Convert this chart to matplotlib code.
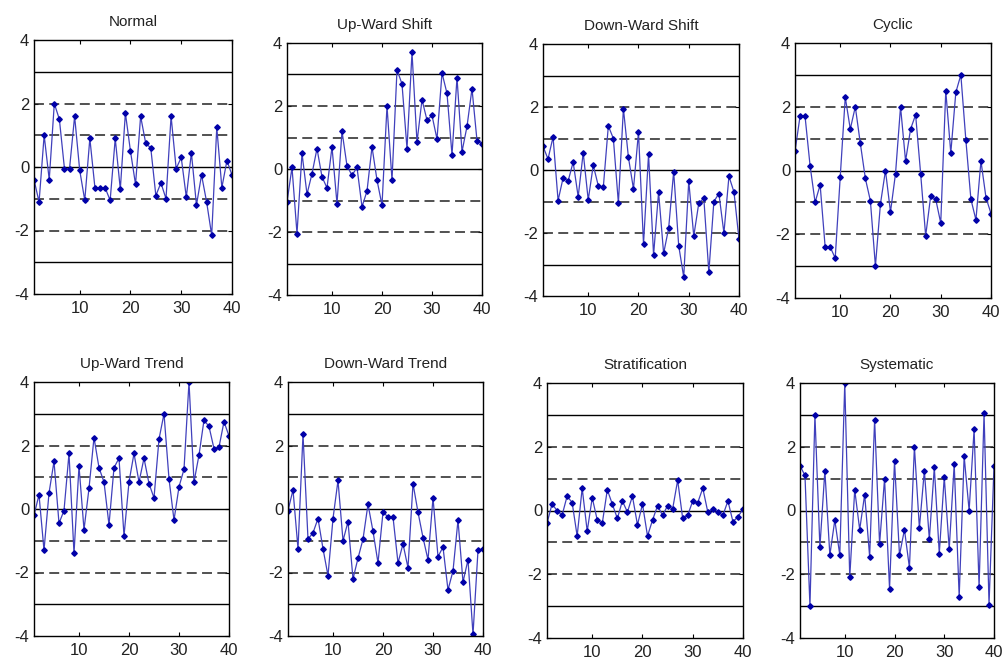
import matplotlib
matplotlib.use("Agg")
import matplotlib.pyplot as plt
import numpy as np

plt.rcParams['font.family'] = ['Liberation Sans', 'DejaVu Sans']
plt.rcParams['axes.unicode_minus'] = False

# sample index 1..40
x = np.arange(1, 41)

titles = ["Normal", "Up-Ward Shift", "Down-Ward Shift", "Cyclic",
          "Up-Ward Trend", "Down-Ward Trend", "Stratification", "Systematic"]

normal = [-0.4, -1.1, 1.0, -0.4, 2.0, 1.5, -0.05, -0.05, 1.6, -0.1,
          -1.05, 0.9, -0.65, -0.65, -0.65, -1.05, 0.9, -0.7, 1.7, 0.5,
          -0.55, 1.6, 0.75, 0.6, -0.9, -0.5, -1.0, 1.6, -0.05, 0.3,
          -0.95, 0.45, -1.2, -0.25, -1.1, -2.15, 1.25, -0.65, 0.2, -0.25]
up_shift = [-1.05, 0.05, -2.05, 0.5, -0.8, -0.15, 0.65, -0.25, -0.6, 0.7,
            -1.1, 1.2, 0.1, -0.2, 0.05, -1.2, -0.7, 0.7, -0.35, -1.15,
            2.0, -0.35, 3.15, 2.7, 0.65, 3.7, 0.85, 2.2, 1.55, 1.7,
            0.95, 3.05, 2.4, 0.45, 2.9, 0.55, 1.35, 2.55, 0.9, 0.8]
down_shift = [0.75, 0.35, 1.05, -0.97, -0.25, -0.35, 0.25, -0.85, 0.55, -0.95,
              0.15, -0.5, -0.55, 1.4, 1.0, -1.05, 1.95, 0.4, -0.6, 1.2,
              -2.35, 0.5, -2.7, -0.7, -2.65, -1.85, -0.05, -2.4, -3.4, -0.35,
              -2.1, -1.05, -0.9, -3.25, -1.0, -0.75, -2.0, -0.2, -0.7, -2.2]
cyclic = [0.6, 1.7, 1.7, 0.15, -1.0, -0.45, -2.4, -2.4, -2.75, -0.2,
          2.3, 1.3, 2.0, 0.85, -0.25, -0.95, -3.0, -1.05, 0.0, -1.3,
          -0.1, 2.0, 0.3, 1.3, 1.75, -0.1, -2.05, -0.8, -0.9, -1.65,
          2.5, 0.55, 2.45, 3.0, 0.95, -0.9, -1.55, 0.3, -0.85, -1.35]
up_trend = [-0.2, 0.45, -1.3, 0.5, 1.5, -0.45, -0.05, 1.75, -1.4, 1.35,
            -0.65, 0.65, 2.25, 1.3, 0.85, -0.5, 1.3, 1.6, -0.85, 0.85,
            1.75, 0.85, 1.6, 0.8, 0.35, 2.2, 3.0, 0.95, -0.35, 0.7,
            1.25, 4.0, 0.85, 1.7, 2.8, 2.6, 1.9, 1.95, 2.75, 2.3]
down_trend = [-0.05, 0.6, -1.25, 2.35, -0.95, -0.75, -0.3, -1.25, -2.1, -0.3,
              0.9, -1.0, -0.4, -2.2, -1.55, -0.95, 0.15, -0.7, -1.7, -0.1,
              -0.25, -0.25, -1.7, -1.1, -1.85, 0.8, -0.1, -0.9, -1.6, 0.35,
              -1.5, -1.2, -2.55, -1.95, -0.35, -2.3, -1.6, -3.95, -1.3, -1.25]
stratification = [-0.4, 0.2, 0.0, -0.15, 0.45, 0.25, -0.8, 0.7, -0.65, 0.4,
                  -0.3, -0.4, 0.65, 0.2, -0.25, 0.3, -0.05, 0.45, -0.45, 0.2,
                  -0.8, -0.3, 0.15, -0.15, 0.15, 0.05, 0.95, -0.25, -0.15, 0.3,
                  0.25, 0.7, -0.05, 0.05, -0.05, -0.15, 0.3, -0.35, -0.2, 0.05]
systematic = [1.4, 1.1, -3.0, 3.0, -1.15, 1.25, -1.4, -0.3, -1.4, 4.0,
              -2.1, 0.65, -0.6, 0.5, -1.45, 2.85, -1.05, 1.0, -2.45, 1.55,
              -1.4, -0.6, -1.8, 2.0, -0.55, 1.25, -0.9, 1.35, -1.35, 1.05,
              -1.2, 1.45, -2.7, 1.7, 0.0, 2.55, -2.4, 3.05, -2.95, 1.4]

series = [normal, up_shift, down_shift, cyclic,
          up_trend, down_trend, stratification, systematic]

# control limits: solid at 0 and +-3, dashed at +-1 and +-2
solid_levels = [-3, 0, 3]
dashed_levels = [-2, -1, 1, 2]

W, H = 1003, 660
# axes boxes in pixels: left, top, right, bottom
boxes = [(34, 40, 232, 294), (287, 43, 482, 295), (543, 44, 739, 296), (795, 43, 991, 298),
         (34, 382, 229, 636), (288, 382, 483, 636), (547, 383, 743, 638), (800, 383, 994, 638)]

fig = plt.figure(figsize=(W / 100, H / 100), dpi=100)

for (l, t, r, b), name, vals in zip(boxes, titles, series):
    ax = fig.add_axes([l / W, 1 - b / H, (r - l) / W, (b - t) / H])
    for lv in solid_levels:
        ax.axhline(lv, color='black', linewidth=1.0)
    for lv in dashed_levels:
        ax.axhline(lv, color='#222222', linewidth=1.1, linestyle=(0, (6.5, 3.5)))
    ax.plot(x, vals, color='#4040bc', linewidth=0.9, marker='D',
            markersize=2.8, markerfacecolor='#0000a8', markeredgecolor='#0000a8')
    ax.set_xlim(1, 40)
    ax.set_ylim(-4, 4)
    ax.set_xticks([10, 20, 30, 40])
    ax.set_yticks([-4, -2, 0, 2, 4])
    ax.tick_params(direction='in', top=True, right=True, length=3,
                   labelsize=12, color='black', labelcolor='#222222')
    ax.tick_params(axis='x', pad=5)
    for sp in ax.spines.values():
        sp.set_linewidth(1.0)
    ax.set_title(name, fontsize=11, pad=10, color='#222222')

fig.savefig("out.png", dpi=100)
